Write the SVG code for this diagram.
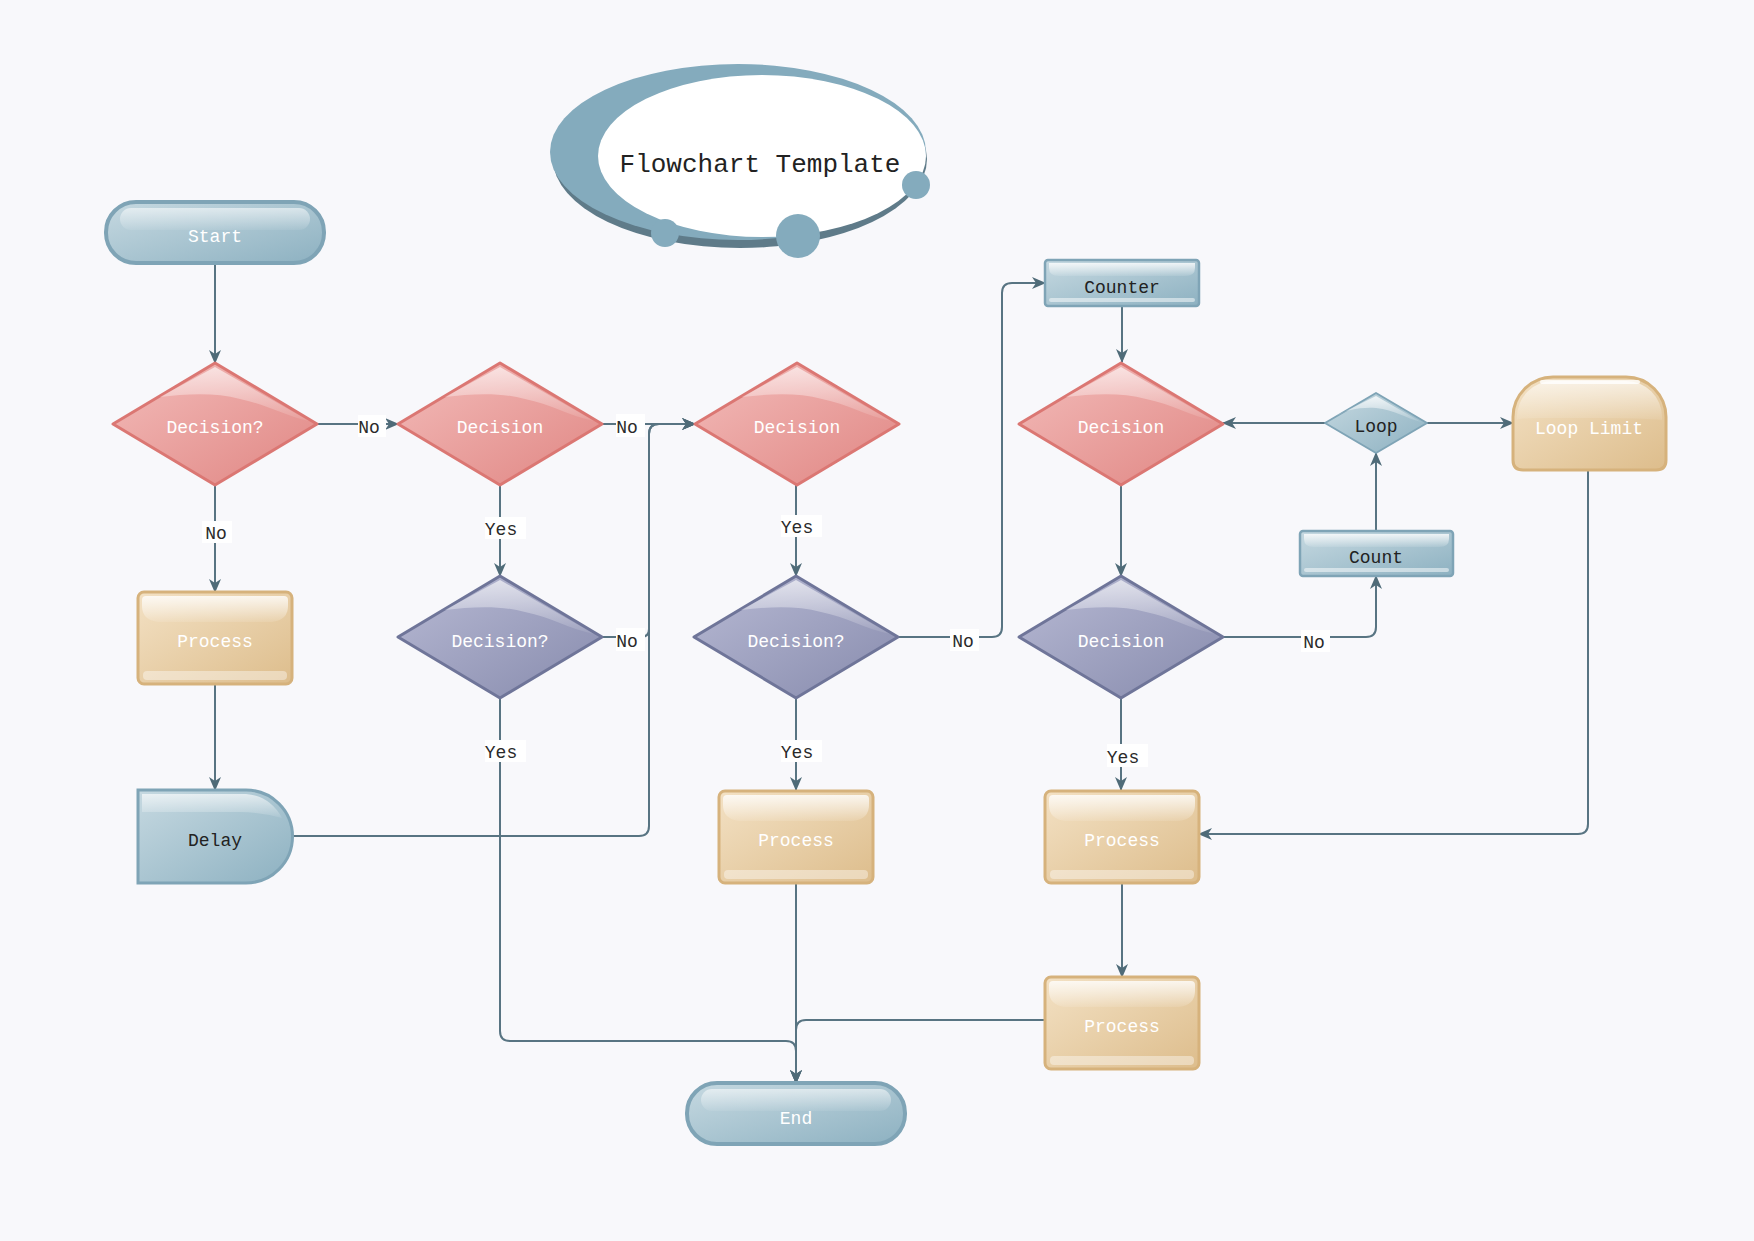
<svg xmlns="http://www.w3.org/2000/svg" xmlns:xlink="http://www.w3.org/1999/xlink" width="1754" height="1241" viewBox="0 0 1754 1241">
<style>
.lbl{font-family:"Liberation Mono","DejaVu Sans Mono",monospace;font-size:18px;text-anchor:middle;}
.w{fill:#ffffff;}
.k{fill:#222222;}
.el{font-family:"Liberation Mono","DejaVu Sans Mono",monospace;font-size:18px;fill:#2a2a2a;text-anchor:middle;}
.con{fill:none;stroke:#587482;stroke-width:2;}
.arr{marker-end:url(#ah);}
.lb{fill:#ffffff;}
</style>
<defs>
<marker id="ah" markerUnits="userSpaceOnUse" viewBox="0 0 14 12" refX="13" refY="6" markerWidth="14" markerHeight="12" orient="auto">
<path d="M0,0 L14,6 L0,12 L4,6 Z" fill="#4f6b78"/>
</marker>
<linearGradient id="gRed" x1="0" y1="0" x2="1" y2="1"><stop offset="0" stop-color="#f3bcba"/><stop offset="1" stop-color="#e08683"/></linearGradient>
<linearGradient id="gPur" x1="0" y1="0" x2="1" y2="1"><stop offset="0" stop-color="#b8bad4"/><stop offset="1" stop-color="#878bad"/></linearGradient>
<linearGradient id="gTan" x1="0" y1="0" x2="1" y2="1"><stop offset="0" stop-color="#f3e1c4"/><stop offset="1" stop-color="#ddbd8c"/></linearGradient>
<linearGradient id="gBlu" x1="0" y1="0" x2="1" y2="1"><stop offset="0" stop-color="#c6d9e1"/><stop offset="1" stop-color="#8db1c1"/></linearGradient>
<linearGradient id="gHi" x1="0" y1="0" x2="0" y2="1"><stop offset="0" stop-color="#ffffff" stop-opacity="0.8"/><stop offset="1" stop-color="#ffffff" stop-opacity="0.1"/></linearGradient>
<g id="shpDiaRed">
<path d="M0,-61 L102,0 L0,61 L-102,0 Z" fill="url(#gRed)" stroke="#db7773" stroke-width="3" stroke-linejoin="round"/>
<path d="M0,-57 L94,-3 C70,-8 50,-20 25,-25 C0,-32 -30,-30 -55,-27 Z" fill="url(#gHi)" opacity="0.8"/>
</g>
<g id="shpDiaPur">
<path d="M0,-61 L102,0 L0,61 L-102,0 Z" fill="url(#gPur)" stroke="#6f7599" stroke-width="3" stroke-linejoin="round"/>
<path d="M0,-57 L94,-3 C70,-8 50,-20 25,-25 C0,-32 -30,-30 -55,-27 Z" fill="url(#gHi)" opacity="0.8"/>
</g>
<g id="shpProc">
<rect x="0" y="0" width="154" height="92" rx="6" fill="url(#gTan)" stroke="#d6b27c" stroke-width="3"/>
<path d="M8,4 H146 Q150,4 150,8 V14 Q150,28 134,30 H20 Q4,28 4,14 V8 Q4,4 8,4 Z" fill="url(#gHi)"/>
<rect x="5" y="79" width="144" height="9" rx="4" fill="#ffffff" opacity="0.4"/>
</g>
<g id="shpPill">
<rect x="0" y="0" width="218" height="61" rx="30" fill="url(#gBlu)" stroke="#7fa4b6" stroke-width="4"/>
<rect x="14" y="6" width="190" height="22" rx="11" fill="url(#gHi)" opacity="0.7"/>
</g>
</defs>
<rect x="0" y="0" width="1754" height="1241" fill="#f8f8fb"/>

<g id="title">
<ellipse cx="740" cy="159" rx="187" ry="89" fill="#5f7b89"/>
<ellipse cx="738" cy="152" rx="188" ry="88" fill="#84abbd"/>
<ellipse cx="762" cy="156" rx="164" ry="81" fill="#ffffff"/>
<circle cx="665" cy="233" r="14" fill="#84abbd"/>
<circle cx="798" cy="236" r="22" fill="#84abbd"/>
<circle cx="916" cy="185" r="14" fill="#84abbd"/>
<text x="760" y="172" font-family="Liberation Mono, DejaVu Sans Mono, monospace" font-size="26" fill="#222222" text-anchor="middle">Flowchart Template</text>
</g>

<g id="connectors">
<path class="con arr" d="M215,263 V363"/>
<path class="con arr" d="M317,424 H398"/>
<path class="con arr" d="M215,485 V592"/>
<path class="con arr" d="M215,684 V790"/>
<path class="con arr" d="M292,836 H639 Q649,836 649,826 V434 Q649,424 659,424 H695"/>
<path class="con arr" d="M602,424 H695"/>
<path class="con arr" d="M602,637 H641 Q649,637 649,629 V434 Q649,424 659,424 H695"/>
<path class="con arr" d="M500,485 V576"/>
<path class="con arr" d="M500,698 V1031 Q500,1041 510,1041 H786 Q796,1041 796,1051 V1083"/>
<path class="con arr" d="M796,485 V576"/>
<path class="con arr" d="M898,637 H992 Q1002,637 1002,627 V293 Q1002,283 1012,283 H1045"/>
<path class="con arr" d="M796,698 V790"/>
<path class="con arr" d="M796,883 V1083"/>
<path class="con arr" d="M1122,306 V362"/>
<path class="con arr" d="M1325,423 H1223"/>
<path class="con arr" d="M1427,423 H1513"/>
<path class="con arr" d="M1376,531 V453"/>
<path class="con arr" d="M1223,637 H1366 Q1376,637 1376,627 V576"/>
<path class="con arr" d="M1121,485 V576"/>
<path class="con arr" d="M1121,698 V790"/>
<path class="con arr" d="M1588,470 V824 Q1588,834 1578,834 H1199"/>
<path class="con arr" d="M1122,883 V977"/>
<path class="con arr" d="M1046,1020 H806 Q796,1020 796,1030 V1083"/>
<rect class="lb" x="358" y="415" width="28" height="22"/><text class="el" x="369" y="433">No</text>
<rect class="lb" x="202" y="521" width="30" height="22"/><text class="el" x="216" y="539">No</text>
<rect class="lb" x="616" y="414" width="29" height="23"/><text class="el" x="627" y="433">No</text>
<rect class="lb" x="485" y="517" width="41" height="22"/><text class="el" x="501" y="535">Yes</text>
<rect class="lb" x="616" y="628" width="29" height="23"/><text class="el" x="627" y="647">No</text>
<rect class="lb" x="485" y="740" width="41" height="22"/><text class="el" x="501" y="758">Yes</text>
<rect class="lb" x="781" y="515" width="41" height="22"/><text class="el" x="797" y="533">Yes</text>
<rect class="lb" x="950" y="629" width="29" height="22"/><text class="el" x="963" y="647">No</text>
<rect class="lb" x="781" y="740" width="41" height="22"/><text class="el" x="797" y="758">Yes</text>
<rect class="lb" x="1301" y="630" width="29" height="22"/><text class="el" x="1314" y="648">No</text>
<rect class="lb" x="1107" y="744" width="41" height="23"/><text class="el" x="1123" y="763">Yes</text>
</g>

<g id="start"><use href="#shpPill" x="106" y="202"/><text class="lbl w" x="215" y="242">Start</text></g>
<g id="end"><use href="#shpPill" x="687" y="1083"/><text class="lbl w" x="796" y="1124">End</text></g>

<g id="dec1"><use href="#shpDiaRed" x="215" y="424"/><text class="lbl w" x="215" y="433">Decision?</text></g>
<g id="dec2"><use href="#shpDiaRed" x="500" y="424"/><text class="lbl w" x="500" y="433">Decision</text></g>
<g id="dec3"><use href="#shpDiaRed" x="797" y="424"/><text class="lbl w" x="797" y="433">Decision</text></g>
<g id="dec4"><use href="#shpDiaRed" x="1121" y="424"/><text class="lbl w" x="1121" y="433">Decision</text></g>
<g id="dec5"><use href="#shpDiaPur" x="500" y="637"/><text class="lbl w" x="500" y="647">Decision?</text></g>
<g id="dec6"><use href="#shpDiaPur" x="796" y="637"/><text class="lbl w" x="796" y="647">Decision?</text></g>
<g id="dec7"><use href="#shpDiaPur" x="1121" y="637"/><text class="lbl w" x="1121" y="647">Decision</text></g>

<g id="proc1"><use href="#shpProc" x="138" y="592"/><text class="lbl w" x="215" y="647">Process</text></g>
<g id="proc2"><use href="#shpProc" x="719" y="791"/><text class="lbl w" x="796" y="846">Process</text></g>
<g id="proc3"><use href="#shpProc" x="1045" y="791"/><text class="lbl w" x="1122" y="846">Process</text></g>
<g id="proc4"><use href="#shpProc" x="1045" y="977"/><text class="lbl w" x="1122" y="1032">Process</text></g>

<g id="delay">
<path d="M138,790 H246 A46.5,46.5 0 0 1 246,883 H138 Z" fill="url(#gBlu)" stroke="#7fa4b6" stroke-width="3"/>
<path d="M142,794 H246 Q270,796 282,818 Q260,812 240,812 H142 Z" fill="url(#gHi)" opacity="0.8"/>
<text class="lbl k" x="215" y="846">Delay</text>
</g>

<g id="counter">
<rect x="1045" y="260" width="154" height="46" rx="3" fill="url(#gBlu)" stroke="#7fa4b6" stroke-width="2.5"/>
<path d="M1049,263 H1195 V268 Q1195,276 1185,276 H1059 Q1049,276 1049,268 Z" fill="url(#gHi)"/>
<rect x="1049" y="298" width="146" height="4" rx="2" fill="#ffffff" opacity="0.5"/>
<text class="lbl k" x="1122" y="293">Counter</text>
</g>

<g id="count">
<rect x="1300" y="531" width="153" height="45" rx="3" fill="url(#gBlu)" stroke="#7fa4b6" stroke-width="2.5"/>
<path d="M1304,534 H1449 V539 Q1449,547 1439,547 H1314 Q1304,547 1304,539 Z" fill="url(#gHi)"/>
<rect x="1304" y="568" width="145" height="4" rx="2" fill="#ffffff" opacity="0.5"/>
<text class="lbl k" x="1376" y="563">Count</text>
</g>

<g id="loop">
<path d="M1376,393 L1427,423 L1376,453 L1325,423 Z" fill="url(#gBlu)" stroke="#7fa4b6" stroke-width="2" stroke-linejoin="round"/>
<path d="M1376,396 L1421,422 C1405,418 1395,410 1376,408 C1360,407 1345,410 1336,416 Z" fill="url(#gHi)"/>
<text class="lbl k" x="1376" y="432">Loop</text>
</g>

<g id="looplimit">
<path d="M1553,377 H1626 A40,40 0 0 1 1666,417 V460 Q1666,470 1656,470 H1523 Q1513,470 1513,460 V417 A40,40 0 0 1 1553,377 Z" fill="url(#gTan)" stroke="#d6b27c" stroke-width="3"/>
<path d="M1553,381 H1626 A36,36 0 0 1 1662,417 V420 Q1640,418 1600,418 H1540 Q1520,418 1517,420 V417 A36,36 0 0 1 1553,381 Z" fill="url(#gHi)" opacity="0.8"/>
<rect x="1540" y="380" width="100" height="4" rx="2" fill="#ffffff" opacity="0.8"/>
<text class="lbl w" x="1589" y="434">Loop Limit</text>
</g>
</svg>
